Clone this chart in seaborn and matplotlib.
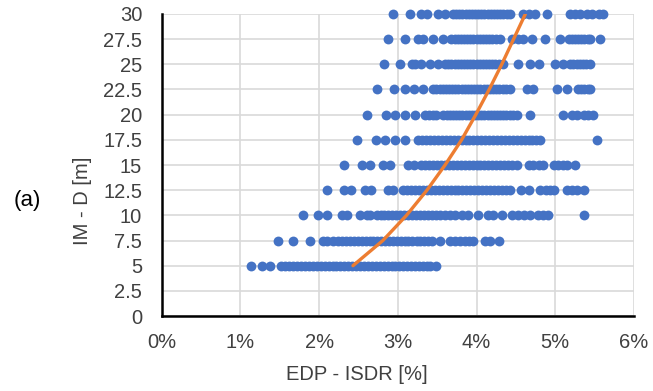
import matplotlib
matplotlib.use("Agg")
import matplotlib.pyplot as plt
import seaborn as sns
import pandas as pd
from matplotlib.ticker import FuncFormatter

# IM levels [m]
im_levels = [5, 7.5, 10, 12.5, 15, 17.5, 20, 22.5, 25, 27.5, 30]

# EDP - ISDR [%] values observed at each IM level
isdr_5 = [1.14, 1.27, 1.38, 1.52, 1.57, 1.62, 1.67, 1.72, 1.77, 1.82, 1.87, 1.92, 1.97,
          2.02, 2.07, 2.12, 2.17, 2.22, 2.27, 2.32, 2.37, 2.42, 2.47, 2.52, 2.57, 2.62,
          2.67, 2.72, 2.77, 2.82, 2.87, 2.92, 2.97, 3.02, 3.07, 3.12, 3.17, 3.22, 3.27,
          3.32, 3.37, 3.41, 3.49]
isdr_7_5 = [1.48, 1.67, 1.89, 2.05, 2.10, 2.17, 2.24, 2.29, 2.34, 2.39, 2.44, 2.49, 2.54,
            2.59, 2.64, 2.69, 2.74, 2.79, 2.84, 2.89, 2.94, 2.99, 3.04, 3.09, 3.13, 3.18,
            3.24, 3.28, 3.33, 3.38, 3.43, 3.54, 3.66, 3.73, 3.79, 3.85, 3.90, 3.96, 4.11,
            4.17, 4.28]
isdr_10 = [1.80, 1.99, 2.10, 2.29, 2.35, 2.52, 2.61, 2.65, 2.73, 2.78, 2.83, 2.88, 2.93,
           2.98, 3.03, 3.08, 3.13, 3.18, 3.23, 3.28, 3.33, 3.38, 3.43, 3.48, 3.54, 3.60,
           3.66, 3.73, 3.81, 3.89, 4.02, 4.15, 4.21, 4.32, 4.45, 4.53, 4.60, 4.68, 4.78,
           4.85, 4.91, 5.36]
isdr_12_5 = [2.10, 2.32, 2.41, 2.58, 2.66, 2.87, 2.94, 3.07, 3.12, 3.17, 3.22, 3.27, 3.32,
             3.37, 3.42, 3.47, 3.52, 3.57, 3.62, 3.67, 3.72, 3.77, 3.82, 3.87, 3.92, 3.97,
             4.02, 4.07, 4.12, 4.17, 4.22, 4.27, 4.32, 4.37, 4.43, 4.57, 4.67, 4.81, 4.88,
             4.93, 4.98, 5.15, 5.21, 5.28, 5.36]
isdr_15 = [2.31, 2.54, 2.65, 2.81, 2.90, 3.13, 3.20, 3.30, 3.35, 3.40, 3.45, 3.50, 3.55,
           3.60, 3.65, 3.70, 3.75, 3.80, 3.85, 3.90, 3.95, 4.00, 4.05, 4.10, 4.15, 4.20,
           4.25, 4.30, 4.35, 4.40, 4.45, 4.51, 4.66, 4.72, 4.79, 4.85, 4.98, 5.04, 5.10,
           5.15, 5.25]
isdr_17_5 = [2.48, 2.72, 2.84, 2.97, 3.09, 3.26, 3.31, 3.36, 3.41, 3.46, 3.51, 3.56, 3.61,
             3.66, 3.71, 3.76, 3.81, 3.86, 3.91, 3.96, 4.01, 4.06, 4.11, 4.16, 4.21, 4.26,
             4.31, 4.36, 4.41, 4.46, 4.51, 4.56, 4.61, 4.66, 4.71, 4.76, 4.81, 5.53]
isdr_20 = [2.61, 2.85, 2.97, 3.09, 3.22, 3.35, 3.40, 3.45, 3.49, 3.58, 3.62, 3.66, 3.70,
           3.74, 3.78, 3.82, 3.86, 3.90, 3.94, 3.98, 4.02, 4.06, 4.10, 4.14, 4.18, 4.22,
           4.26, 4.30, 4.34, 4.38, 4.42, 4.46, 4.51, 4.68, 5.10, 5.21, 5.27, 5.37, 5.42,
           5.48]
isdr_22_5 = [2.73, 2.95, 3.09, 3.20, 3.32, 3.45, 3.49, 3.53, 3.57, 3.61, 3.65, 3.69, 3.73,
             3.77, 3.81, 3.85, 3.89, 3.93, 3.97, 4.01, 4.05, 4.09, 4.13, 4.17, 4.21, 4.25,
             4.29, 4.33, 4.38, 4.43, 4.64, 4.72, 5.02, 5.15, 5.29, 5.33, 5.37, 5.41, 5.44]
isdr_25 = [2.82, 3.03, 3.18, 3.22, 3.30, 3.41, 3.51, 3.60, 3.64, 3.68, 3.72, 3.76, 3.80,
           3.84, 3.88, 3.92, 3.96, 4.00, 4.04, 4.08, 4.12, 4.16, 4.20, 4.24, 4.29, 4.34,
           4.53, 4.68, 4.79, 5.00, 5.10, 5.19, 5.23, 5.27, 5.31, 5.35, 5.39, 5.44]
isdr_27_5 = [2.88, 3.09, 3.26, 3.32, 3.45, 3.58, 3.68, 3.72, 3.76, 3.80, 3.84, 3.88, 3.92,
             3.96, 4.00, 4.04, 4.08, 4.12, 4.16, 4.20, 4.25, 4.30, 4.45, 4.53, 4.59, 4.70,
             4.87, 5.06, 5.17, 5.21, 5.25, 5.29, 5.33, 5.37, 5.41, 5.44, 5.57]
isdr_30 = [2.94, 3.16, 3.30, 3.37, 3.51, 3.60, 3.70, 3.74, 3.78, 3.82, 3.86, 3.90, 3.94,
           3.98, 4.02, 4.06, 4.10, 4.14, 4.18, 4.22, 4.26, 4.30, 4.34, 4.39, 4.43, 4.59,
           4.66, 4.74, 4.89, 5.19, 5.25, 5.32, 5.40, 5.47, 5.55, 5.61]

# Median (fitted) curve
curve_im = [5, 7.5, 10, 12.5, 15, 17.5, 20, 22.5, 25, 27.5, 30]
curve_isdr = [2.43, 2.81, 3.11, 3.37, 3.60, 3.81, 3.99, 4.16, 4.32, 4.47, 4.62]

y_ticks = [0, 2.5, 5, 7.5, 10, 12.5, 15, 17.5, 20, 22.5, 25, 27.5, 30]
x_ticks = [0, 1, 2, 3, 4, 5, 6]

rows = [isdr_5, isdr_7_5, isdr_10, isdr_12_5, isdr_15, isdr_17_5, isdr_20,
        isdr_22_5, isdr_25, isdr_27_5, isdr_30]
recs = []
for im, xs in zip(im_levels, rows):
    for x in xs:
        recs.append((x, im))
df = pd.DataFrame(recs, columns=["ISDR", "IM"])
dfc = pd.DataFrame({"ISDR": curve_isdr, "IM": curve_im})

sns.set_theme(style="white")
plt.rcParams['font.family'] = ['Liberation Sans', 'DejaVu Sans']

fig, ax = plt.subplots(figsize=(6.53, 3.91), dpi=100)
fig.subplots_adjust(left=0.2476, right=0.9709, bottom=0.1918, top=0.9642)

ax.set_axisbelow(True)
ax.grid(True, color="#D9D9D9", linewidth=1.2)

sns.scatterplot(data=df, x="ISDR", y="IM", ax=ax, color="#4472C4", s=50,
                linewidth=0, clip_on=False, zorder=3)
sns.lineplot(data=dfc, x="ISDR", y="IM", ax=ax, color="#ED7D31", linewidth=2.4,
             sort=False, zorder=4)

ax.set_xlim(0, 6)
ax.set_ylim(0, 30)
ax.set_xticks(x_ticks)
ax.set_yticks(y_ticks)
ax.xaxis.set_major_formatter(FuncFormatter(lambda v, p: f"{v:.0f}%"))
ax.yaxis.set_major_formatter(FuncFormatter(lambda v, p: f"{v:g}"))

for s in ["top", "right"]:
    ax.spines[s].set_visible(False)
for s in ["left", "bottom"]:
    ax.spines[s].set_color("black")
    ax.spines[s].set_linewidth(1.8)

ax.tick_params(axis="both", direction="in", length=5, width=1.6, color="black",
               labelsize=14.5, labelcolor="#404040")
ax.tick_params(axis="y", pad=14)
ax.tick_params(axis="x", pad=12.5)

ax.set_xlabel("")
ax.set_ylabel("")
fig.text(0.547, 0.041, "EDP - ISDR [%]", ha="center", va="center", fontsize=14.5,
         color="#404040")
fig.text(0.127, 0.486, "IM - D [m]", ha="center", va="center", rotation=90,
         fontsize=14.5, color="#404040")
fig.text(0.042, 0.488, "(a)", ha="center", va="center", fontsize=16, color="black")

fig.savefig("out.png", dpi=100)
